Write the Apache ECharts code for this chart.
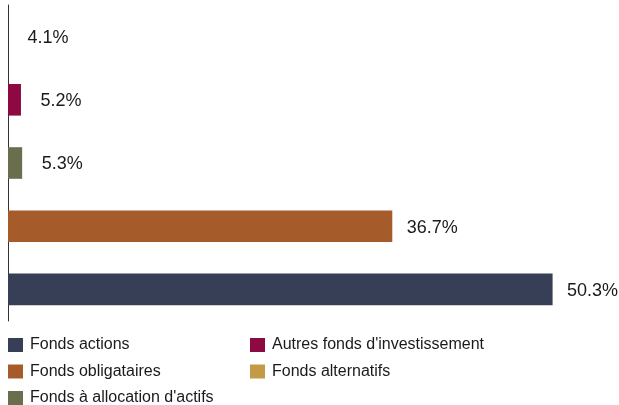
<!DOCTYPE html>
<html>
<head>
<meta charset="utf-8">
<script src="https://cdn.jsdelivr.net/npm/echarts@6/dist/echarts.min.js"></script>
<style>
  html, body { margin: 0; padding: 0; background: #fff; }
  #chart { width: 619px; height: 405px; }
</style>
</head>
<body>
<div id="chart"></div>
<script>
// catégories, du bas vers le haut
var categories = ['Fonds actions', 'Fonds obligataires', "Fonds à allocation d'actifs", "Autres fonds d'investissement", 'Fonds alternatifs'];
var values = [50.3, 36.7, 5.3, 5.2, 4.1];
var colors = ['#363f56', '#a65b2a', '#6a6e4c', '#8c0a41', '#c39b47'];
// ordre de la légende (deux colonnes)
var legendLeft = ['Fonds actions', 'Fonds obligataires', "Fonds à allocation d'actifs"];
var legendRight = ["Autres fonds d'investissement", 'Fonds alternatifs'];

var FONT = '"Liberation Sans", Arial, sans-serif';

var series = categories.map(function (name, i) {
    var data = categories.map(function (c, j) { return j === i ? values[i] : '-'; });
    return {
        name: name,
        type: 'bar',
        data: data,
        barGap: '-100%',
        barCategoryGap: '50%',
        itemStyle: { color: colors[i] },
        label: {
            show: true,
            position: 'right',
            distance: 40,
            align: 'center',
            offset: [0, 1.5],
            formatter: '{c}%',
            color: '#1a1a1a',
            fontSize: 18,
            fontFamily: FONT
        },
        silent: true
    };
});

// une légende par entrée, placée en grille 2 colonnes
function legendItem(name, left, row) {
    return {
        left: left,
        top: 337 + row * 26.5,
        padding: 0,
        itemWidth: 15,
        itemHeight: 14,
        icon: 'rect',
        selectedMode: false,
        data: [name],
        textStyle: {
            color: '#1a1a1a',
            fontSize: 16,
            fontFamily: FONT,
            padding: [0, 0, 0, 2]
        }
    };
}
var legends = [];
legendLeft.forEach(function (n, r) { legends.push(legendItem(n, 8, r)); });
legendRight.forEach(function (n, r) { legends.push(legendItem(n, 250, r)); });

var option = {
    animation: false,
    grid: { left: 8, right: 11, top: 5, bottom: 84, containLabel: false },
    xAxis: {
        type: 'value',
        min: 4.1,
        max: 55,
        show: false
    },
    yAxis: {
        type: 'category',
        data: categories,
        axisLine: { show: true, lineStyle: { color: '#333', width: 1 } },
        axisTick: { show: false },
        axisLabel: { show: false },
        splitLine: { show: false }
    },
    legend: legends,
    series: series
};

var chart = echarts.init(document.getElementById('chart'));
chart.setOption(option);
</script>
</body>
</html>
